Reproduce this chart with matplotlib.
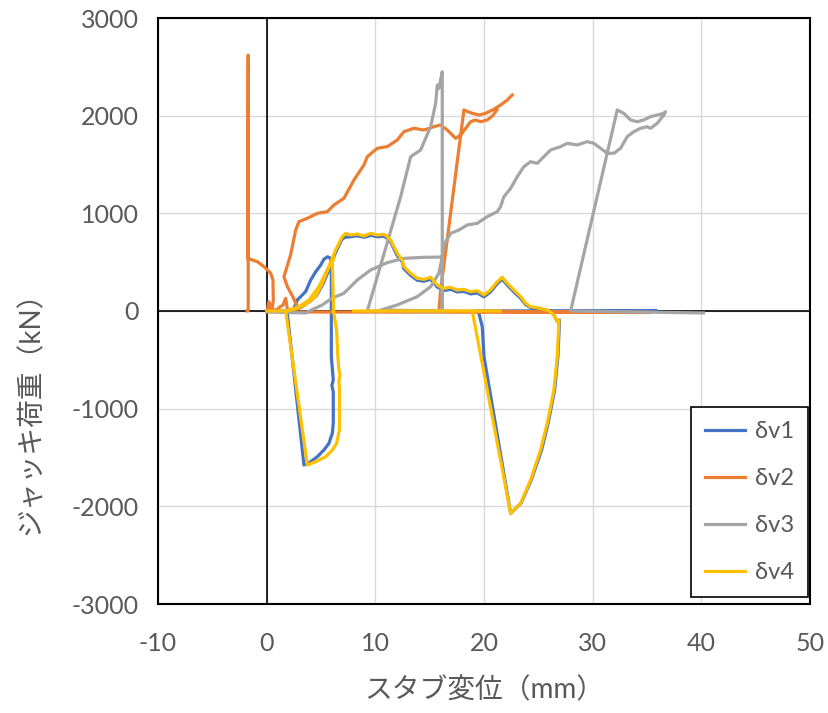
import numpy as np
import matplotlib
matplotlib.use('Agg')
import matplotlib.pyplot as plt

plt.rcParams['font.family'] = ['Lato', 'Noto Sans CJK JP', 'DejaVu Sans']
plt.rcParams['axes.unicode_minus'] = False

nan = np.nan

# δv1 (blue)
v1_x = [0, 2.2, 2.51, 2.82, 3.13, 3.59, 4.05, 4.5, 4.97, 5.27, 5.6, 5.89, 5.95, 5.95, 5.95, 6.13, 6.0, 6.13,
        6.13, 6.04, 5.73, 5.27, 4.66, 4.05, 3.43, 1.9, 2.0, 2.5, 3.2, 4.0, 4.6, 5.2, 5.8, 6.35, 6.9, 7.2, 7.7,
        8.3, 9.0, 9.6, 10.2, 10.8, 11.1, 11.4, 11.7, 12.0, 12.5, 12.6, 13.25, 13.86, 14.47, 15.09, 15.7, 16.31,
        16.93, 17.54, 18.15, 18.77, 19.38, 19.99, 20.6, 21.22, 21.68, 22.14, 22.75, 23.37, 23.83, 24.29, 25.2,
        26.13, 26.43, 26.74, 26.95, 26.8, 26.5, 25.9, 25.3, 24.35, 23.4, 22.45, 20.0, 19.84, 19.53, 19.3, 35.8]
v1_y = [0, 0, 27, 113, 147, 200, 317, 400, 470, 530, 555, 540, 400, 0, -468, -706, -760, -830,
        -1150, -1252, -1355, -1423, -1492, -1543, -1577, -24, 0, 10, 40, 100, 160, 280, 440, 600, 730, 755, 760,
        770, 755, 775, 760, 765, 745, 710, 640, 570, 500, 435, 365, 315, 305, 325, 245, 210,
        222, 195, 200, 175, 185, 145, 195, 280, 325, 265, 195, 130, 65, 35, 20,
        0, -41, -110, -92, -468, -809, -1150, -1423, -1730, -1969, -2072, -468, -160, -24, 0, 5]

# δv2 (orange)
v2_x = [-1.8, -1.7, -1.7, -1.75, -0.86, -0.24, 0.37, 0.58, 0.61, 0.52, 0.3, 0.2, 0.1, 0.9, 1.2, 1.5, 1.75,
        1.9, 2.1, 2.9, 2.4, 1.9, 1.59, 2.2, 2.67, 2.97, 3.74, 4.66, 5.58, 6.19, 7.11, 8.03, 8.95, 9.26, 10.18,
        11.1, 12.02, 12.63, 13.55, 14.47, 15.39, 16.0, 16.62, 17.39, 17.85, 18.77, 19.2, 19.69, 20.3, 20.8, 21.2,
        nan, 2.9, 35.3, 15.85, 16.0, 18.15, 18.92, 19.53, 20.15, 20.9, 21.53, 22.14, 22.6]
v2_y = [0, 0, 2620, 540, 505, 454, 386, 317, 113, 27, 60, 95, 20, 10, 40, 60, 130,
        20, 0, 27, 147, 250, 351, 573, 829, 915, 949, 1000, 1017, 1085, 1154, 1341, 1495, 1580, 1666,
        1683, 1751, 1836, 1871, 1853, 1887, 1905, 1853, 1768, 1802, 1938, 1956, 1938, 1956, 2000, 2060,
        nan, -10, -15, 0, 200, 2058, 2024, 2007, 2024, 2065, 2109, 2160, 2212]

# δv3 (gray)
v3_x = [0, 3.6, 4.3, 5.1, 6.0, 7.1, 8.34, 9.57, 11.1, 12.63, 14.47, 16.0, 16.16, 16.16, 9.26, 12.33, 13.25,
        14.17, 15.09, 15.55, 15.7, 15.85, 16.0, 16.16, 16.16, 10.5, 12.0, 13.86, 15.09, 15.85, 16.16, 16.3,
        16.93, 17.69, 18.46, 19.38, 20.3, 21.22, 21.53, 21.83, 22.45, 23.06, 23.67, 24.29, 24.9, 25.51, 26.13,
        27.05, 27.66, 28.58, 29.5, 30.11, 30.73, 31.34, 31.95, 32.57, 33.18, 33.79, 34.41, 35.02, 35.33, 35.94,
        36.55, 36.7, 36.55, 35.94, 35.33, 34.7, 34.1, 33.49, 32.87, 32.26, 27.97, 40.2]
v3_y = [-10, -20, 20, 61, 130, 181, 317, 420, 495, 539, 550, 552, 556, 0, 0, 1170, 1580,
        1649, 1887, 2127, 2314, 2280, 2365, 2450, 0, 10, 61, 147, 249, 386, 556, 676,
        795, 829, 881, 898, 966, 1017, 1068, 1170, 1256, 1375, 1478, 1529, 1512, 1580, 1649,
        1683, 1717, 1700, 1734, 1717, 1666, 1615, 1615, 1666, 1785, 1836, 1871, 1887, 1871, 1922,
        2007, 2041, 2024, 2007, 1990, 1956, 1938, 1956, 2024, 2058, 0, -20]

# δv4 (yellow)
v4_x = [0, 1.75, 2.05, 2.97, 3.9, 4.8, 5.43, 5.89, 6.2, 6.04, 6.15, 6.44, 6.55, 6.65, 6.75, 6.65, 6.7, 6.7,
        6.56, 6.44, 6.04, 5.43, 4.5, 3.74, 1.75, 2.5, 3.5, 4.5, 5.12, 5.73, 6.35, 6.96, 7.27, 7.73, 8.34, 8.95,
        9.57, 10.18, 10.79, 11.1, 11.41, 11.71, 12.02, 12.48, 12.63, 13.25, 13.86, 14.47, 15.09, 15.7, 16.31,
        16.93, 17.54, 18.15, 18.77, 19.38, 19.99, 20.6, 21.22, 21.68, 22.14, 22.75, 23.37, 23.83, 24.29, 25.2,
        25.97, 26.43, 26.74, 26.9, 26.74, 26.43, 25.82, 25.2, 24.29, 23.37, 22.45, 18.92, 21.5,
        nan, 8.0, 18.92]
v4_y = [0, 0, 10, 44, 113, 249, 386, 488, 560, 500, 0, -200, -468, -604, -650, -720, -800, -1219,
        -1287, -1355, -1423, -1492, -1543, -1577, 0, 15, 60, 147, 283, 454, 625, 761, 795, 778, 788, 768,
        795, 778, 785, 761, 727, 658, 590, 522, 454, 386, 335, 324, 345, 266, 232,
        243, 215, 222, 198, 208, 164, 215, 300, 345, 283, 215, 147, 79, 44, 27,
        3, -41, -110, -92, -468, -809, -1150, -1423, -1730, -1969, -2072, 0, 0,
        nan, 0, 0]

series = [('δv1', v1_x, v1_y, '#4472C4'),
          ('δv2', v2_x, v2_y, '#ED7D31'),
          ('δv3', v3_x, v3_y, '#A5A5A5'),
          ('δv4', v4_x, v4_y, '#FFC000')]

fig = plt.figure(figsize=(8.29, 7.13), dpi=100)
ax = fig.add_axes([158 / 829, 1 - 604 / 713, 652 / 829, 586 / 713])

for name, xs, ys, col in series:
    ax.plot(xs, ys, color=col, lw=2.3, label=name, zorder=3)

ax.axhline(0, color='black', lw=1.2, zorder=2)
ax.axvline(0, color='black', lw=1.2, zorder=2)

ax.set_xlim(-10, 50)
ax.set_ylim(-3000, 3000)
ax.set_xticks(range(-10, 51, 10))
ax.set_yticks(range(-3000, 3001, 1000))
ax.grid(True, color='#d9d9d9', lw=1.0, zorder=0)
ax.set_axisbelow(True)
ax.tick_params(length=0, labelsize=18, colors='#595959')
ax.tick_params(axis='x', pad=20)
ax.tick_params(axis='y', pad=14)
for s in ax.spines.values():
    s.set_color('black')
    s.set_linewidth(1.5)

fig.text(484 / 829, 1 - 690 / 713, 'スタブ変位（mm）', ha='center', va='center',
         fontsize=20, color='#595959')
fig.text(31 / 829, 1 - 406 / 713, 'ジャッキ荷重（kN）', ha='center', va='center',
         rotation=90, fontsize=20, color='#595959')

leg = ax.legend(loc='lower right', bbox_to_anchor=(0.997, 0.012), borderaxespad=0,
                fontsize=17, frameon=True, fancybox=False, framealpha=1,
                handlelength=1.7, labelspacing=1.1, borderpad=0.6, handletextpad=0.4)
leg.get_frame().set_edgecolor('black')
leg.get_frame().set_linewidth(1.2)
for t in leg.get_texts():
    t.set_color('#595959')

fig.savefig('out.png', dpi=100)
